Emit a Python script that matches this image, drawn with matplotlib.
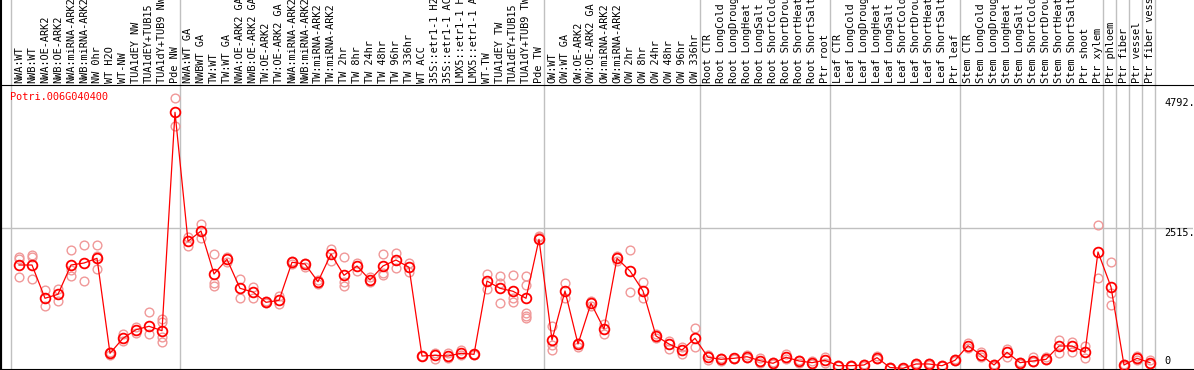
import numpy as np
import matplotlib
matplotlib.use("Agg")
import matplotlib.pyplot as plt
import matplotlib.transforms as mtransforms

# sample labels, one per column
labels = [
    "NWA:WT", "NWB:WT", "NWA:OE-ARK2", "NWB:OE-ARK2", "NWA:miRNA-ARK2", "NWB:miRNA-ARK2",
    "NW 0hr", "WT H2O", "WT-NW", "TUA1dEY NW", "TUA1dEY+TUB15", "TUA1dY+TUB9 NW", "Pde NW",
    "NWA:WT GA", "NWBWT GA", "TW:WT", "TW:WT GA", "NWA:OE-ARK2 GA", "NWB:OE-ARK2 GA",
    "TW:OE-ARK2", "TW:OE-ARK2 GA", "NWA:miRNA-ARK2", "NWB:miRNA-ARK2", "TW:miRNA-ARK2",
    "TW:miRNA-ARK2", "TW 2hr", "TW 8hr", "TW 24hr", "TW 48hr", "TW 96hr", "TW 336hr",
    "WT ACC", "35S::etr1-1 H2O", "35S::etr1-1 ACC", "LMX5::etr1-1 H2O", "LMX5::etr1-1 ACC",
    "WT-TW", "TUA1dEY TW", "TUA1dEY+TUB15", "TUA1dY+TUB9 TW", "Pde TW",
    "OW:WT", "OW:WT GA", "OW:OE-ARK2", "OW:OE-ARK2 GA", "OW:miRNA-ARK2", "OW:miRNA-ARK2",
    "OW 2hr", "OW 8hr", "OW 24hr", "OW 48hr", "OW 96hr", "OW 336hr",
    "Root CTR", "Root LongCold", "Root LongDrought", "Root LongHeat", "Root LongSalt",
    "Root ShortCold", "Root ShortDrought", "Root ShortHeat", "Root ShortSalt", "Ptr root",
    "Leaf CTR", "Leaf LongCold", "Leaf LongDrought", "Leaf LongHeat", "Leaf LongSalt",
    "Leaf ShortCold", "Leaf ShortDrought", "Leaf ShortHeat", "Leaf ShortSalt", "Ptr leaf",
    "Stem CTR", "Stem LongCold", "Stem LongDrought", "Stem LongHeat", "Stem LongSalt",
    "Stem ShortCold", "Stem ShortDrought", "Stem ShortHeat", "Stem ShortSalt",
    "Ptr shoot", "Ptr xylem", "Ptr phloem", "Ptr fiber", "Ptr vessel", "Ptr fiber vessel",
]

# first column of each group (separator lines)
group_starts = [0, 13, 41, 53, 63, 73, 84, 85, 86, 87, 88]

means = [
    1861, 1861, 1277, 1347, 1861, 1896, 1979, 311, 574, 725, 785, 708, 4543,
    2278, 2458, 1703, 1961, 1452, 1387, 1206, 1241, 1909, 1879, 1568, 2055, 1680,
    1844, 1598, 1844, 1949, 1821, 263, 276, 263, 311, 293, 1580, 1452, 1400, 1277, 2313,
    544, 1405, 474, 1189, 738, 1979, 1756, 1405, 615, 474, 369, 574,
    241, 205, 223, 251, 181, 135, 241, 176, 146, 188,
    93, 93, 105, 234, 61, 47, 123, 123, 93, 188,
    444, 281, 105, 328, 146, 176, 205, 439, 439, 328, 2090,
    1475, 105, 223, 146,
]

reps = [
    [2002, 1967, 1651], [2037, 2002, 1616], [1422, 1147], [1445, 1234],
    [2120, 1774, 1673], [2207, 1575], [2207, 2025, 1791], [339, 281], [650, 532],
    [767, 662], [1036, 650], [908, 866, 602, 515], [4794, 4307],
    [2358, 2200], [2576, 2330], [2049, 1551, 1493], [2007, 1919], [1610, 1287],
    [1480, 1277], [1224, 1189], [1317, 1177], [1940, 1880], [1902, 1821], [1598, 1522],
    [2142, 1932], [2002, 1558, 1498], [1902, 1761], [1656, 1568], [2055, 1726, 1686],
    [2077, 1803], [1902, 1744], [270, 255], [321, 205], [311, 223], [369, 281], [300, 285],
    [1703, 1435], [1668, 1540, 1189], [1686, 1277, 1217], [1668, 1510, 1013, 966, 925],
    [2376, 2348],
    [790, 457, 369], [1551, 1277], [497, 427], [1230, 1150], [825, 644], [2019, 1932],
    [2125, 1382], [1558, 1287], [650, 574], [532, 381], [427, 299], [750, 416],
    [281, 193], [223, 178], [235, 210], [281, 223], [223, 146], [150, 120], [293, 205],
    [193, 146], [181, 123], [251, 135],
    [110, 80], [105, 85], [120, 95], [263, 215], [70, 55], [55, 40], [135, 110],
    [140, 110], [110, 85], [210, 170],
    [497, 399], [339, 251], [120, 95], [381, 251], [165, 130], [251, 160], [251, 185],
    [544, 321], [515, 334], [444, 223], [2564, 1628],
    [1914, 1364, 1154], [120, 95], [263, 200], [193, 130],
]

gene = "Potri.006G040400"
ytick_vals = [4792, 2515, 0]

W, H = 1194, 370
fig = plt.figure(figsize=(W / 100, H / 100), dpi=100)
ax = fig.add_axes([1 / W, 1 / H, 1192 / W, 284 / H])

x = np.arange(len(means))
ax.set_xlim((1 - 19) / 13, (1193 - 19) / 13)
ax.set_ylim(35, 5022)

# grid / separators
ax.axhline(2515, color="#c0c0c0", lw=1.0, zorder=0)
for g in group_starts:
    ax.axvline(g - 8 / 13, ymin=0, ymax=369 / 284, color="#c0c0c0", lw=1.0,
               clip_on=False, zorder=0)

# replicates
for i, r in enumerate(reps):
    ax.plot([i] * len(r), r, "o", mfc="none", mec="#f09898", ms=6.3, mew=1.0, zorder=2)

# means
ax.plot(x, means, "-", color="red", lw=0.9, zorder=3)
ax.plot(x, means, "o", mfc="none", mec="red", ms=7, mew=1.3, zorder=4)

mono = "DejaVu Sans Mono"
trans = mtransforms.blended_transform_factory(ax.transData, ax.transAxes)
for i, lab in enumerate(labels):
    ax.text(i, 1 + 2 / 284, lab, rotation=90, ha="center", va="bottom",
            fontsize=7.4, family=mono, transform=trans, clip_on=False)

ax.text((10 - 19) / 13, (369 - 97) / 284, gene, color="red", fontsize=7.4,
        family=mono, ha="left", va="center", transform=trans)

for v in ytick_vals:
    txt = "%d." % v if v else "0"
    ax.text((1164 - 19) / 13, v if v else 80, txt, fontsize=7.4, family=mono,
            ha="left", va="top" if v else "bottom", clip_on=False)

for s in ["right"]:
    ax.spines[s].set_visible(False)
ax.spines["left"].set_bounds(35, 5022)
ax.plot([0, 0], [0, 369 / 284], color="black", lw=1.5, transform=ax.transAxes,
        clip_on=False)
ax.set_xticks([])
ax.set_yticks([])

fig.savefig("out.png", dpi=100)
